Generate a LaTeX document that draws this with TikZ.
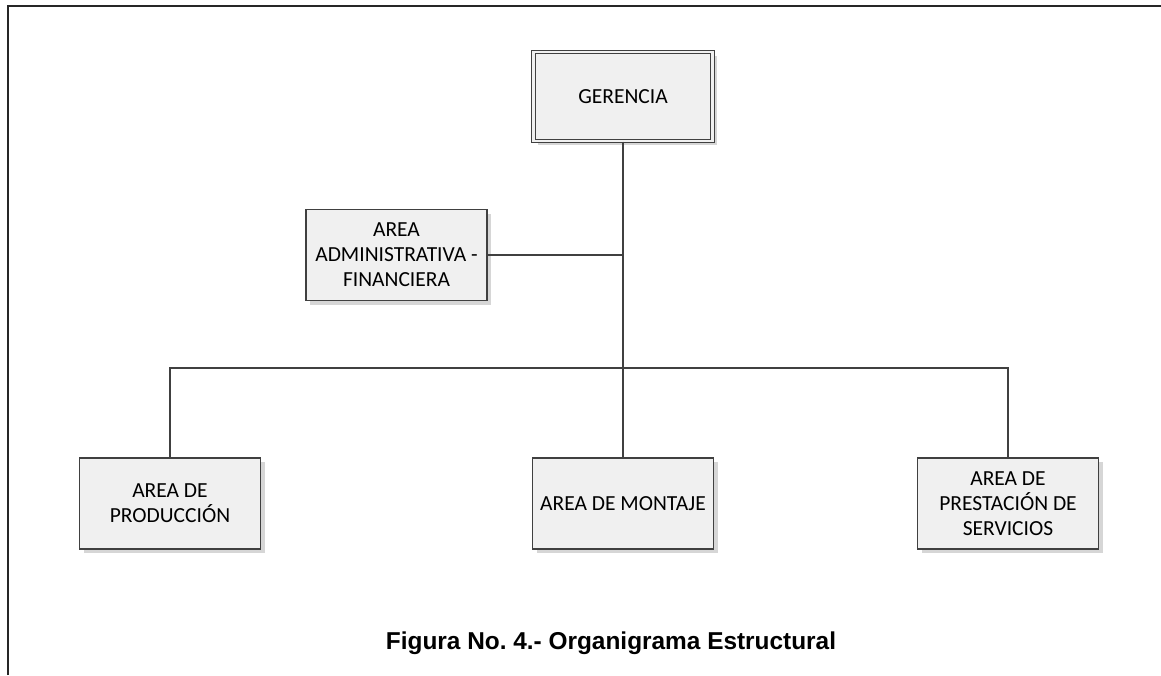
\documentclass[tikz,border=0pt]{standalone}
\usepackage{fontspec}
\setmainfont{Carlito}
\newfontfamily\capfont{Liberation Sans}
\usetikzlibrary{shadows}
\definecolor{boxfill}{HTML}{F0F0F0}
\definecolor{boxline}{HTML}{404040}
\definecolor{shade}{HTML}{D6D6D6}
\frenchspacing
\begin{document}
\begin{tikzpicture}[x=1pt, y=-1pt,
  every node/.style={font=\fontsize{21.5}{25}\selectfont, align=center},
  unit/.style={draw=boxline, fill=boxfill, line width=1.3pt, minimum width=181pt, minimum height=91pt, inner sep=2pt,
    drop shadow={shadow xshift=4pt, shadow yshift=-4pt, fill=shade, opacity=1}},
  head/.style={unit, minimum width=179pt, minimum height=89pt, double=boxfill, double distance=2.5pt, line width=1pt},
  link/.style={draw=boxline, line width=2.7pt}]
\useasboundingbox (0,0) rectangle (1161,675);
% frame
\draw[line width=2pt, black!85] (8,675) -- (8,6) -- (1161,6);
% boxes
\node[head] (ger) at (623,96.5) {GERENCIA};
\node[unit] (adm) at (396.5,255) {AREA\\ADMINISTRATIVA -\\FINANCIERA};
\node[unit] (pro) at (170,503.5) {AREA DE\\PRODUCCIÓN};
\node[unit] (mon) at (623,503.5) {AREA DE MONTAJE};
\node[unit] (ser) at (1008,503.5) {AREA DE\\PRESTACIÓN DE\\SERVICIOS};
\coordinate (bus) at (623,368);
% connectors
\draw[link] (ger.south) -- (mon.north);
\draw[link] (adm.east) -- (adm.east -| ger.south);
\draw[link] (pro.north) |- (bus) -| (ser.north);
\node[font=\capfont\fontsize{24.4}{28}\selectfont\bfseries, anchor=base] (cap) at (611,649) {Figura No. 4.- Organigrama Estructural};
\end{tikzpicture}
\end{document}
